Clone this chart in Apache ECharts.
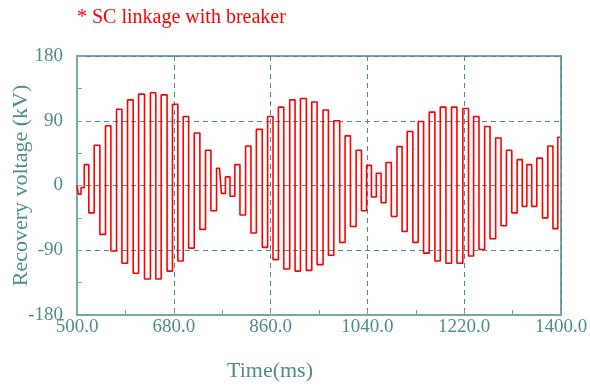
<!DOCTYPE html>
<html>
<head>
<meta charset="utf-8">
<script src="https://cdn.jsdelivr.net/npm/echarts@6/dist/echarts.min.js"></script>
<style>html,body{margin:0;padding:0;background:#fff}#c{width:590px;height:388px}</style>
</head>
<body>
<div id="c"></div>
<script>
var times = [500, 505, 510, 517, 527, 537, 548, 558, 568, 579, 588, 600, 609, 620, 631, 642, 651, 662, 673, 682,
  693, 702, 713, 723, 734, 744, 754, 765, 772, 780, 789, 798, 808, 819, 828, 839, 850, 859, 870, 879,
  890, 901, 910, 921, 932, 941, 952, 963, 972, 983, 994, 1003, 1014, 1024, 1034, 1043, 1052, 1061, 1070, 1079,
  1090, 1100, 1109, 1119, 1130, 1139, 1150, 1160, 1171, 1180, 1192, 1201, 1212, 1223, 1233, 1242, 1253, 1263, 1273, 1284,
  1293, 1304, 1313, 1324, 1332, 1341, 1350, 1360, 1371, 1380, 1390, 1398];
var voltage = [0, -12, -3, 29, -38, 56, -68, 83, -91, 106, -108, 119, -122, 127, -130, 129, -130, 126, -119, 113,
  -105, 96, -87, 73, -61, 49, -35, 24, -11, 12, -15, 29, -41, 55, -66, 78, -86, 96, -103, 109,
  -116, 119, -119, 121, -118, 116, -110, 105, -97, 90, -79, 69, -57, 49, -35, 28, -16, 17, -24, 32,
  -43, 54, -64, 75, -79, 89, -94, 102, -105, 109, -108, 109, -108, 107, -98, 96, -89, 82, -74, 66,
  -56, 49, -38, 36, -29, 29, -29, 38, -45, 55, -60, 67];
var titleText = '* SC linkage with breaker';
var xName = 'Time(ms)';
var yName = 'Recovery voltage (kV)';

var data = times.map(function (t, i) { return [t, voltage[i]]; });
var axisColor = '#74a8a8';
var textColor = '#4f8c8c';
var font = 'Liberation Serif';

var chart = echarts.init(document.getElementById('c'));
chart.setOption({
  animation: false,
  backgroundColor: '#ffffff',
  title: {
    text: titleText, left: 72, top: 3,
    textStyle: { color: '#ff0000', fontFamily: font, fontSize: 20, fontWeight: 'normal' }
  },
  grid: { left: 77, right: 29, top: 56, bottom: 73, containLabel: false, outerBoundsMode: 'none', show: true, borderColor: axisColor, borderWidth: 2, backgroundColor: 'transparent' },
  graphic: [{
    type: 'text', left: 227, top: 360,
    style: { text: xName, fill: textColor, font: '22px "Liberation Serif"' }
  }],
  xAxis: {
    type: 'value', min: 500, max: 1400, interval: 180,
    axisLine: { show: true, onZero: false, lineStyle: { color: axisColor, width: 2 } },
    axisTick: { show: true, inside: true, length: 5, lineStyle: { color: axisColor } },
    minorTick: { show: true, splitNumber: 2, length: 5, lineStyle: { color: axisColor } },
    axisLabel: { color: textColor, fontFamily: font, fontSize: 19, margin: 3, hideOverlap: false, formatter: function (v) { return v.toFixed(1); } },
    splitLine: { show: true, lineStyle: { color: '#4f8a8a', type: [5, 4], width: 1 } }
  },
  yAxis: {
    type: 'value', min: -180, max: 180, interval: 90,
    name: yName, nameLocation: 'middle', nameGap: 45, nameRotate: 90, nameMoveOverlap: false,
    nameTextStyle: { color: textColor, fontFamily: font, fontSize: 22 },
    axisLine: { show: true, onZero: false, lineStyle: { color: axisColor, width: 2 } },
    axisTick: { show: true, inside: true, length: 5, lineStyle: { color: axisColor } },
    minorTick: { show: true, splitNumber: 2, length: 5, lineStyle: { color: axisColor } },
    axisLabel: { color: textColor, fontFamily: font, fontSize: 19, margin: 14, hideOverlap: false },
    splitLine: { show: true, lineStyle: { color: '#4f8a8a', type: [5, 4], width: 1 } }
  },
  series: [{
    type: 'line', data: data, showSymbol: false, step: 'middle',
    lineStyle: { color: '#ff0000', width: 1.6 }
  }]
});
</script>
</body>
</html>
